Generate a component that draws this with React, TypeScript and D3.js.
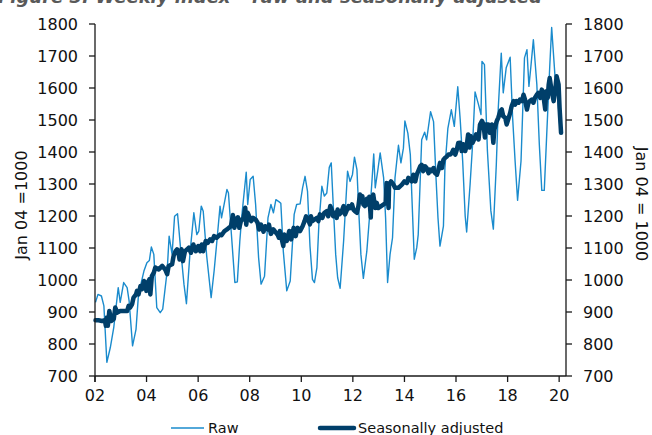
import React from "react";
import * as d3 from "d3";

// ---- data (week offset from 1 Jan 2002, index value, Jan 04 = 1000) ----
const rawSeries: [number, number][] = [
  [1,930],[6,955],[13,950],[18,919],[24,743],[31,789],[38,852],[47,976],[51,930],[58,992],[65,976],[69,935],[76,794],[83,846],[88,955],[99,1028],[105,1054],[110,1061],[114,1103],[119,1080],[125,914],[132,898],[137,909],[146,1028],[150,1137],[156,1080],[161,1199],[167,1207],[173,1101],[180,987],[185,926],[192,1080],[200,1210],[206,1142],[210,1153],[215,1231],[219,1215],[226,1075],[235,945],[241,1028],[246,1111],[253,1231],[256,1194],[267,1283],[270,1272],[277,1121],[283,992],[288,994],[293,1121],[297,1199],[300,1246],[306,1337],[309,1236],[314,1314],[320,1324],[325,1236],[331,1070],[336,987],[343,1012],[350,1194],[356,1236],[361,1210],[366,1251],[372,1245],[376,1240],[381,1090],[388,966],[395,997],[403,1205],[408,1236],[415,1238],[420,1288],[425,1324],[430,1277],[435,1106],[440,1002],[444,992],[449,1039],[453,1174],[459,1293],[464,1262],[469,1272],[474,1352],[478,1366],[482,1236],[487,1080],[491,1007],[496,974],[503,1121],[511,1340],[516,1308],[521,1330],[525,1384],[530,1345],[534,1205],[538,1080],[543,1005],[550,1090],[555,1189],[560,1300],[564,1394],[567,1288],[572,1340],[577,1397],[584,1319],[588,1194],[592,992],[597,1080],[602,1132],[607,1319],[614,1421],[619,1366],[624,1412],[627,1497],[633,1459],[638,1392],[641,1267],[646,1065],[651,1101],[654,1142],[661,1438],[667,1462],[671,1438],[679,1526],[685,1495],[690,1319],[694,1194],[698,1106],[705,1168],[708,1350],[714,1474],[721,1532],[727,1480],[734,1604],[739,1500],[744,1370],[749,1200],[752,1150],[759,1300],[764,1424],[769,1588],[776,1548],[781,1517],[783,1683],[788,1673],[794,1403],[801,1216],[806,1159],[812,1361],[816,1538],[822,1709],[826,1585],[832,1663],[840,1696],[845,1507],[850,1372],[855,1249],[862,1372],[869,1694],[874,1720],[878,1605],[882,1668],[887,1751],[894,1611],[899,1424],[904,1280],[909,1280],[914,1455],[920,1663],[924,1789],[931,1631],[936,1579],[941,1470]
];

const saSeries: [number, number][] = [
  [1,874],[7,874],[14,872],[20,874],[22,857],[24,883],[26,857],[29,903],[33,872],[38,878],[41,914],[45,898],[51,903],[58,903],[65,903],[68,919],[71,914],[75,924],[78,945],[83,955],[85,966],[88,955],[92,981],[95,971],[99,997],[102,992],[104,966],[107,992],[110,1002],[112,955],[115,1012],[119,1023],[122,1039],[129,1033],[136,1044],[142,1033],[146,1018],[149,1044],[156,1049],[159,1075],[163,1090],[166,1096],[169,1085],[171,1064],[175,1096],[178,1059],[182,1090],[186,1095],[190,1101],[194,1085],[199,1111],[204,1090],[209,1106],[213,1090],[216,1111],[219,1090],[224,1122],[228,1116],[233,1127],[237,1122],[241,1137],[246,1132],[253,1142],[256,1140],[262,1153],[267,1158],[271,1163],[275,1168],[279,1203],[282,1163],[285,1189],[289,1196],[292,1163],[296,1189],[300,1189],[304,1226],[306,1173],[309,1210],[312,1199],[316,1184],[320,1194],[325,1189],[329,1179],[332,1158],[336,1173],[341,1151],[344,1168],[350,1158],[352,1173],[356,1144],[361,1158],[366,1148],[370,1140],[372,1132],[374,1153],[378,1127],[381,1106],[383,1142],[388,1122],[393,1153],[397,1127],[402,1163],[406,1137],[410,1163],[415,1153],[420,1168],[424,1184],[427,1199],[431,1189],[435,1174],[437,1199],[440,1184],[444,1189],[449,1194],[452,1184],[455,1205],[460,1194],[464,1210],[469,1215],[472,1199],[476,1231],[479,1220],[482,1199],[486,1210],[489,1194],[491,1220],[494,1205],[498,1210],[503,1231],[506,1205],[510,1220],[513,1231],[516,1225],[520,1236],[523,1220],[526,1215],[530,1210],[533,1231],[536,1267],[538,1246],[541,1262],[543,1236],[546,1231],[550,1254],[553,1235],[555,1260],[558,1195],[559,1251],[563,1267],[567,1225],[570,1241],[573,1225],[579,1231],[584,1236],[588,1241],[590,1303],[594,1225],[595,1298],[599,1308],[604,1298],[607,1288],[614,1288],[621,1298],[626,1308],[631,1303],[634,1319],[641,1308],[644,1329],[648,1308],[651,1329],[654,1340],[658,1355],[661,1360],[664,1340],[668,1355],[671,1350],[675,1334],[678,1345],[681,1340],[685,1350],[688,1334],[692,1329],[695,1345],[698,1366],[702,1350],[705,1376],[708,1381],[712,1386],[715,1392],[719,1392],[722,1397],[725,1407],[729,1392],[732,1407],[735,1428],[739,1429],[742,1403],[745,1424],[749,1403],[752,1419],[755,1455],[758,1414],[760,1450],[764,1429],[767,1439],[771,1455],[776,1439],[779,1486],[783,1497],[786,1486],[789,1445],[791,1486],[796,1486],[799,1460],[803,1486],[806,1429],[808,1470],[813,1497],[816,1507],[820,1528],[823,1533],[826,1512],[830,1507],[833,1486],[837,1507],[840,1522],[843,1543],[847,1559],[850,1548],[853,1559],[857,1554],[860,1564],[864,1559],[867,1579],[870,1564],[874,1533],[877,1554],[880,1559],[884,1564],[887,1554],[890,1569],[894,1579],[897,1585],[901,1569],[904,1595],[907,1579],[911,1533],[913,1590],[916,1569],[918,1611],[920,1631],[922,1611],[924,1590],[928,1559],[931,1590],[934,1637],[938,1611],[940,1538],[943,1460]
];

const yTickValues = [700, 800, 900, 1000, 1100, 1200, 1300, 1400, 1500, 1600, 1700, 1800];
const xTickYears = [2002, 2004, 2006, 2008, 2010, 2012, 2014, 2016, 2018, 2020];
const legendLabels = ["Raw", "Seasonally adjusted"];
const axisTitleLeft = "Jan 04 =1000";
const axisTitleRight = "Jan 04 = 1000";
const chartTitle = "Figure 3: Weekly index \u2013 raw and seasonally adjusted";

const START = new Date(2002, 0, 1);
const END_WEEK = 953;

const RAW_COLOR = "#1a8bcd";
const SA_COLOR = "#003f6a";
const FONT = "Verdana, 'DejaVu Sans', sans-serif";

export default function App() {
  const left = 95, right = 566, top = 24, bottom = 376;
  const wk = (w: number) => d3.timeDay.offset(START, 7 * w);
  const x = d3.scaleTime().domain([START, wk(END_WEEK)]).range([left, right]);
  const y = d3.scaleLinear().domain([700, 1800]).range([bottom, top]);

  const line = d3
    .line<[number, number]>()
    .x((d) => x(wk(d[0])))
    .y((d) => y(d[1]));

  const fmt = d3.timeFormat("%y");

  return (
    <svg
      width={652}
      height={435}
      style={{ position: "absolute", left: 0, top: 0, background: "#fff" }}
      fontFamily={FONT}
    >
      <text x={-2} y={3} fontSize={18} fontWeight="bold" fontStyle="italic" fill="#595959">
        {chartTitle}
      </text>

      {/* series */}
      <path d={line(rawSeries) || ""} fill="none" stroke={RAW_COLOR} strokeWidth={1.4} strokeLinejoin="round" />
      <path d={line(saSeries) || ""} fill="none" stroke={SA_COLOR} strokeWidth={4.5} strokeLinejoin="round" strokeLinecap="round" />

      {/* axes */}
      <g stroke="#1a1a1a" strokeWidth={1.3} fill="none">
        <line x1={left} x2={left} y1={top} y2={bottom + 6} />
        <line x1={right} x2={right} y1={top} y2={bottom} />
        <line x1={left} x2={right} y1={bottom} y2={bottom} />
        {yTickValues.map((v) => (
          <g key={"t" + v}>
            <line x1={left - 6} x2={left} y1={y(v)} y2={y(v)} />
            <line x1={right} x2={right + 6} y1={y(v)} y2={y(v)} />
          </g>
        ))}
        {xTickYears.map((yr) => (
          <line key={"x" + yr} x1={x(new Date(yr, 0, 1))} x2={x(new Date(yr, 0, 1))} y1={bottom} y2={bottom + 6} />
        ))}
      </g>

      <g fontSize={16} fill="#111">
        {yTickValues.map((v) => (
          <g key={"l" + v}>
            <text x={left - 17} y={y(v)} dy="0.36em" textAnchor="end">{v}</text>
            <text x={right + 17} y={y(v)} dy="0.36em" textAnchor="start">{v}</text>
          </g>
        ))}
        {xTickYears.map((yr) => (
          <text key={"xl" + yr} x={x(new Date(yr, 0, 1))} y={401} textAnchor="middle">
            {fmt(new Date(yr, 0, 1))}
          </text>
        ))}
        <text transform="translate(27,205) rotate(-90)" textAnchor="middle">{axisTitleLeft}</text>
        <text transform="translate(636,204) rotate(90)" textAnchor="middle">{axisTitleRight}</text>
      </g>

      {/* legend */}
      <g fontSize={14.5} fill="#111">
        <line x1={171} x2={204} y1={428} y2={428} stroke={RAW_COLOR} strokeWidth={1.5} />
        <text x={208} y={433}>{legendLabels[0]}</text>
        <line x1={320} x2={354} y1={428} y2={428} stroke={SA_COLOR} strokeWidth={4.5} strokeLinecap="round" />
        <text x={358} y={433}>{legendLabels[1]}</text>
      </g>
    </svg>
  );
}
